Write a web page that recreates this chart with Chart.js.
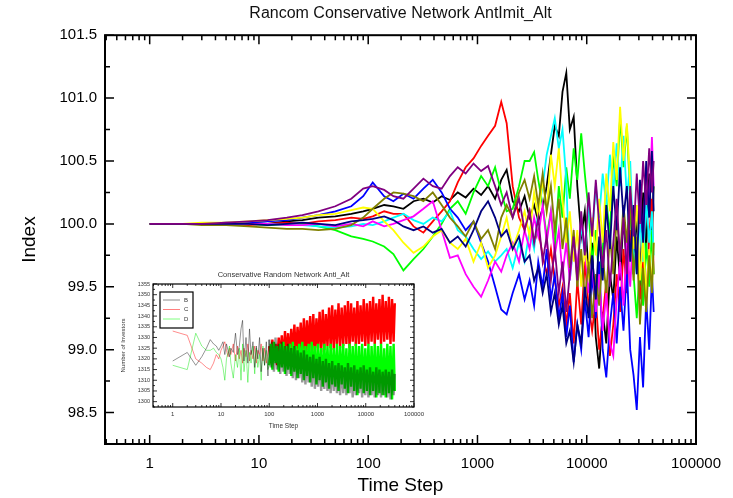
<!DOCTYPE html>
<html>
<head>
<meta charset="utf-8">
<script src="https://cdn.jsdelivr.net/npm/chart.js@4.4.1/dist/chart.umd.min.js"></script>
<style>
  html, body { margin: 0; padding: 0; background: #fff; }
  #wrap { position: relative; width: 733px; height: 498px; }
  #mainChart { position: absolute; left: 0; top: 0; }
  #insetChart { position: absolute; left: 112px; top: 266px; }
</style>
</head>
<body>
<div id="wrap">
  <canvas id="mainChart" width="733" height="498"></canvas>
  <canvas id="insetChart" width="322" height="166"></canvas>
</div>
<script>
// ---- index runs (main plot) ----
const timeSteps = [1, 2, 3, 5, 8, 12, 18, 25, 35, 50, 70, 90, 110, 140, 170, 210, 260, 320, 390, 470,
  560, 660, 780, 920, 1080, 1250, 1450, 1650, 1850, 2100, 2400, 2700, 3000, 3300, 3600, 3950, 4300, 4700, 5100, 5550,
  6000, 6500, 7000, 7600, 8200, 8900, 9600, 10400, 11200, 12100, 13000, 14000, 15100, 16300, 17500, 18800, 20200, 21700, 23300, 25000,
  26800, 28700, 30700, 32800, 35000, 37300, 39500, 41000];

const runBlack = [100.00, 100.00, 100.00, 100.00, 100.01, 100.00, 100.02, 100.03, 100.05, 100.06,
  100.08, 100.10, 100.12, 100.15, 100.14, 100.12, 100.18, 100.20, 100.17, 100.22,
  100.19, 100.25, 100.21, 100.28, 100.23, 100.30, 100.20, 100.35, 100.43, 100.18,
  100.10, 100.22, 100.05, 100.15, 100.02, 100.12, 100.30, 100.55, 100.78, 100.70,
  101.05, 101.20, 100.75, 100.85, 100.30, 99.90, 100.10, 99.60, 99.85, 99.10,
  98.85, 99.30, 99.05, 99.60, 99.40, 99.90, 99.55, 100.05, 99.70, 100.20,
  99.60, 100.10, 99.45, 100.25, 99.80, 100.40, 99.90, 100.30];
const runRed = [100.00, 100.00, 100.00, 100.00, 99.99, 100.00, 100.01, 100.00, 100.02, 100.03,
  100.05, 100.04, 100.06, 100.10, 100.08, 100.08, 99.98, 99.93, 100.02, 100.10,
  100.18, 100.33, 100.45, 100.52, 100.62, 100.70, 100.78, 100.97, 100.80, 100.30,
  100.05, 99.95, 100.10, 99.85, 99.95, 99.75, 99.60, 99.80, 99.55, 99.35,
  99.50, 99.20, 99.45, 99.05, 99.55, 99.20, 99.70, 99.35, 99.15, 99.40,
  99.00, 99.25, 99.55, 98.95, 99.20, 99.60, 99.30, 99.80, 99.45, 99.95,
  99.60, 99.85, 99.40, 99.70, 99.35, 99.90, 100.20, 99.60];
const runGreen = [100.00, 100.00, 100.00, 100.00, 100.00, 99.99, 99.99, 100.00, 99.98, 99.95,
  99.90, 99.88, 99.86, 99.82, 99.76, 99.63, 99.72, 99.80, 99.90, 100.00,
  100.12, 100.18, 100.08, 100.25, 100.38, 100.30, 100.45, 100.25, 100.10, 100.12,
  100.30, 100.50, 100.50, 100.57, 100.35, 100.15, 99.90, 100.10, 99.80, 100.30,
  100.05, 100.45, 100.20, 100.60, 100.35, 100.72, 100.40, 100.10, 99.70, 99.95,
  99.55, 99.80, 100.20, 99.90, 100.55, 100.30, 100.85, 100.45, 100.78, 100.20,
  99.60, 99.25, 99.70, 99.35, 99.85, 99.50, 99.95, 99.60];
const runBlue = [100.00, 100.00, 100.00, 100.01, 100.01, 100.02, 100.03, 100.05, 100.07, 100.10,
  100.14, 100.22, 100.33, 100.22, 100.18, 100.24, 100.20, 100.28, 100.35, 100.25,
  100.12, 100.05, 99.95, 100.02, 99.85, 99.70, 99.50, 99.32, 99.28, 99.45,
  99.60, 99.40, 99.55, 99.35, 99.70, 99.50, 99.80, 99.40, 99.60, 99.25,
  99.45, 99.10, 99.35, 98.90, 99.20, 99.00, 99.40, 99.10, 99.60, 99.25,
  99.70, 99.00, 98.78, 99.20, 99.45, 99.05, 99.50, 99.15, 99.65, 99.00,
  98.80, 98.52, 99.10, 98.70, 99.40, 99.00, 99.60, 99.30];
const runCyan = [100.00, 100.00, 100.00, 100.00, 100.00, 100.00, 99.99, 99.99, 99.98, 99.97,
  99.98, 100.00, 99.99, 100.02, 100.05, 100.08, 100.03, 100.00, 100.05, 100.02,
  100.10, 99.95, 99.90, 99.80, 99.72, 99.78, 99.70, 99.75, 99.80, 99.65,
  99.85, 99.70, 99.95, 99.80, 100.10, 100.30, 100.55, 100.70, 100.84, 100.60,
  100.75, 100.35, 99.55, 99.85, 99.60, 100.00, 99.75, 100.15, 99.90, 100.30,
  100.05, 100.40, 100.15, 100.55, 100.25, 100.64, 100.30, 100.70, 100.20, 100.50,
  99.80, 99.60, 100.05, 99.70, 100.20, 99.85, 100.10, 99.75];
const runMagenta = [100.00, 100.00, 100.00, 100.00, 100.00, 100.00, 99.99, 99.99, 100.00, 99.98,
  100.00, 99.98, 100.02, 99.98, 100.00, 100.03, 100.06, 100.12, 100.18, 99.95,
  99.73, 99.75, 99.60, 99.50, 99.42, 99.55, 99.70, 99.62, 99.75, 99.85,
  99.70, 99.95, 99.80, 100.05, 99.90, 100.15, 99.85, 100.10, 99.75, 99.95,
  99.60, 99.85, 99.55, 99.90, 99.65, 100.05, 99.80, 99.45, 99.70, 99.30,
  99.60, 99.15, 99.45, 99.05, 98.95, 99.40, 99.70, 99.35, 99.85, 99.50,
  100.00, 99.70, 100.20, 99.90, 100.45, 100.10, 100.69, 100.30];
const runYellow = [100.00, 100.00, 100.01, 100.01, 100.02, 100.03, 100.04, 100.05, 100.07, 100.08,
  100.11, 100.13, 100.12, 100.02, 99.95, 99.85, 99.77, 99.82, 99.90, 99.95,
  99.85, 99.80, 99.88, 99.70, 99.85, 99.65, 99.75, 99.90, 100.05, 99.80,
  99.95, 100.10, 99.90, 100.25, 100.05, 100.35, 100.10, 100.55, 100.30, 100.60,
  100.20, 99.85, 100.10, 99.70, 99.95, 99.50, 99.80, 99.60, 100.05, 99.75,
  100.20, 99.85, 100.40, 100.10, 100.65, 100.35, 100.93, 100.50, 100.80, 100.30,
  99.80, 100.15, 99.55, 99.90, 99.40, 99.80, 99.50, 99.85];
const runOlive = [100.00, 100.00, 99.99, 99.99, 99.98, 99.97, 99.96, 99.96, 99.95, 99.96,
  99.99, 100.05, 100.12, 100.20, 100.25, 100.24, 100.22, 100.18, 100.25, 100.15,
  100.05, 99.98, 99.90, 100.02, 99.88, 99.95, 99.80, 100.05, 100.15, 100.05,
  100.25, 100.35, 100.20, 100.38, 100.15, 100.40, 100.10, 100.30, 99.95, 100.20,
  99.80, 100.05, 99.65, 99.95, 99.50, 99.80, 99.40, 99.70, 99.25, 99.60,
  99.35, 99.75, 99.45, 99.90, 99.60, 100.05, 99.75, 100.15, 99.85, 100.25,
  99.55, 99.90, 99.20, 99.65, 99.30, 99.75, 99.45, 99.85];
const runNavy = [100.00, 100.00, 100.00, 100.00, 100.00, 99.99, 100.00, 100.01, 100.00, 99.99,
  100.02, 100.03, 100.04, 100.06, 100.03, 99.98, 99.95, 99.98, 99.93, 99.96,
  99.85, 99.90, 99.82, 99.95, 100.10, 100.18, 100.05, 99.90, 99.95, 99.80,
  99.90, 99.70, 99.75, 99.55, 99.65, 99.45, 99.60, 99.30, 99.45, 99.20,
  99.35, 99.05, 99.15, 98.90, 99.20, 99.05, 99.50, 99.25, 99.75, 99.40,
  99.90, 99.55, 100.15, 99.80, 100.30, 99.95, 100.45, 100.05, 100.30, 99.70,
  100.15, 99.60, 100.35, 99.85, 100.50, 100.05, 100.58, 100.10];
const runPurple = [100.00, 100.00, 100.00, 100.01, 100.02, 100.03, 100.05, 100.07, 100.10, 100.14,
  100.20, 100.28, 100.30, 100.27, 100.22, 100.20, 100.28, 100.36, 100.30, 100.28,
  100.38, 100.45, 100.40, 100.48, 100.42, 100.46, 100.30, 100.15, 100.25, 100.05,
  100.20, 99.95, 100.10, 99.85, 100.05, 99.70, 99.90, 99.55, 99.80, 99.45,
  99.70, 99.30, 99.60, 99.90, 99.55, 100.10, 99.75, 100.25, 99.90, 100.35,
  100.00, 99.65, 99.95, 99.50, 99.85, 100.20, 99.70, 100.05, 99.60, 100.30,
  99.90, 100.40, 100.00, 100.50, 100.15, 100.60, 100.25, 100.50];

const indexTicks = [98.5, 99.0, 99.5, 100.0, 100.5, 101.0, 101.5];
const decadeTicks = [1, 10, 100, 1000, 10000, 100000];

// ---- investor counts (inset) ----
const insetSteps = [1, 2, 3, 4, 5, 6, 7, 8, 9, 10, 11, 12, 13, 14, 15, 16, 18, 20, 22, 24,
  26, 28, 30, 33, 36, 39, 42, 46, 50, 54, 58, 63, 68, 74, 80, 87, 94,
  100, 108, 116, 125, 135, 145, 157, 169, 182, 196, 212, 228, 246, 265, 286, 308, 332, 358, 386, 416,
  449, 484, 522, 562, 606, 654, 705, 760, 819, 883, 952, 1026, 1106, 1193, 1286, 1386, 1494, 1611, 1737, 1872,
  2018, 2176, 2346, 2529, 2726, 2939, 3168, 3416, 3682, 3970, 4280, 4614, 4974, 5362, 5780, 6231, 6718, 7242, 7807, 8416,
  9073, 9781, 10544, 11367, 12254, 13210, 14241, 15352, 16550, 17842, 19234, 20735, 22353, 24097, 25977, 28004, 30189, 32545, 35084, 37822,
  40000];
const investorsB = [1319, 1323, 1317, 1321, 1325, 1329, 1327, 1326, 1324, 1326, 1328, 1322, 1327, 1324, 1321, 1325, 1323, 1332, 1322, 1326,
  1334, 1338, 1319, 1330, 1318, 1334, 1322, 1328, 1316, 1326, 1320, 1330, 1314, 1325, 1317, 1328, 1312,
  1329, 1316, 1328, 1314, 1330, 1315, 1327, 1313, 1328, 1314, 1326, 1312, 1327, 1313, 1325, 1311, 1326, 1310, 1324, 1311,
  1323, 1309, 1324, 1308, 1322, 1309, 1321, 1307, 1322, 1306, 1320, 1307, 1321, 1305, 1319, 1306, 1320, 1305, 1318, 1304,
  1319, 1305, 1317, 1304, 1318, 1303, 1317, 1304, 1316, 1303, 1318, 1304, 1316, 1302, 1317, 1303, 1315, 1304, 1316, 1302,
  1317, 1303, 1315, 1302, 1316, 1303, 1314, 1302, 1316, 1303, 1315, 1302, 1314, 1303, 1315, 1302, 1314, 1301, 1315, 1303,
  1313];
const investorsC = [1333, 1331, 1320, 1318, 1316, 1315, 1318, 1322, 1320, 1324, 1326, 1328, 1324, 1321, 1325, 1322, 1327, 1319, 1326, 1320,
  1324, 1318, 1325, 1321, 1327, 1319, 1324, 1320, 1326, 1318, 1324, 1322, 1327, 1319, 1325, 1318, 1323,
  1326, 1318, 1329, 1320, 1327, 1317, 1330, 1321, 1331, 1319, 1333, 1321, 1332, 1320, 1334, 1322, 1336, 1321, 1335, 1323,
  1337, 1322, 1339, 1321, 1338, 1324, 1340, 1323, 1341, 1322, 1339, 1325, 1342, 1323, 1343, 1324, 1341, 1326, 1344, 1325,
  1345, 1324, 1343, 1327, 1346, 1325, 1344, 1326, 1345, 1327, 1347, 1325, 1346, 1328, 1344, 1326, 1347, 1327, 1345, 1328,
  1348, 1326, 1346, 1327, 1347, 1328, 1349, 1327, 1346, 1329, 1348, 1327, 1350, 1328, 1347, 1329, 1349, 1327, 1348, 1328,
  1346];
const investorsD = [1317, 1315, 1332, 1326, 1324, 1324, 1325, 1323, 1322, 1320, 1316, 1310, 1320, 1323, 1326, 1318, 1311, 1322, 1316, 1325,
  1310, 1327, 1314, 1324, 1309, 1323, 1318, 1326, 1313, 1325, 1316, 1322, 1310, 1326, 1317, 1324, 1315,
  1317, 1327, 1315, 1328, 1318, 1326, 1314, 1327, 1316, 1328, 1313, 1326, 1315, 1327, 1312, 1328, 1314, 1326, 1311, 1327,
  1313, 1328, 1310, 1326, 1312, 1327, 1309, 1328, 1311, 1326, 1308, 1327, 1310, 1325, 1307, 1327, 1309, 1326, 1306, 1327,
  1308, 1325, 1307, 1327, 1305, 1326, 1308, 1327, 1306, 1325, 1304, 1327, 1307, 1326, 1305, 1327, 1303, 1326, 1306, 1327,
  1304, 1325, 1305, 1327, 1303, 1326, 1305, 1327, 1302, 1326, 1304, 1327, 1303, 1325, 1302, 1327, 1304, 1326, 1301, 1327,
  1305];
const investorTicks = [1300, 1305, 1310, 1315, 1320, 1325, 1330, 1335, 1340, 1345, 1350, 1355];

Chart.defaults.font.family = '"Liberation Sans", Arial, sans-serif';
Chart.defaults.color = '#000';

function points(xs, ys) {
  return ys.map((v, i) => ({ x: xs[i], y: v }));
}

// 1..9 x 10^n positions inside the log range, decade starts flagged as major
function logTickMarks(min, max) {
  const out = [];
  for (let e = Math.floor(Math.log10(min)); e <= Math.ceil(Math.log10(max)); e++) {
    for (let k = 1; k < 10; k++) {
      const v = k * Math.pow(10, e);
      if (v >= min * 0.999 && v <= max * 1.001) out.push({ v, major: k === 1 });
    }
  }
  return out;
}

// box frame with inward ticks on all four sides
const framePlugin = {
  id: 'frame',
  afterDatasetsDraw(chart, args, o) {
    const { ctx, chartArea: a, scales: { x, y } } = chart;
    ctx.save();
    ctx.strokeStyle = o.color;
    ctx.lineWidth = o.tickWidth;
    ctx.beginPath();
    for (const t of logTickMarks(x.min, x.max)) {
      const px = x.getPixelForValue(t.v);
      const len = t.major ? o.major : o.minor;
      ctx.moveTo(px, a.bottom); ctx.lineTo(px, a.bottom - len);
      ctx.moveTo(px, a.top); ctx.lineTo(px, a.top + len);
    }
    const n0 = Math.ceil(y.min / o.yMinor - 1e-6);
    for (let n = n0; n * o.yMinor <= y.max + 1e-6; n++) {
      const v = n * o.yMinor;
      const py = y.getPixelForValue(v);
      const r = v / o.yMajor;
      const len = Math.abs(r - Math.round(r)) < 1e-6 ? o.major : o.minor;
      ctx.moveTo(a.left, py); ctx.lineTo(a.left + len, py);
      ctx.moveTo(a.right, py); ctx.lineTo(a.right - len, py);
    }
    ctx.stroke();
    ctx.lineWidth = o.frameWidth;
    ctx.strokeRect(a.left, a.top, a.right - a.left, a.bottom - a.top);
    ctx.restore();
  }
};

// ---- main chart ----
const mainRuns = [
  { data: runBlack, color: '#000000' },
  { data: runRed, color: '#ff0000' },
  { data: runGreen, color: '#00ff00' },
  { data: runBlue, color: '#0000ff' },
  { data: runCyan, color: '#00ffff' },
  { data: runMagenta, color: '#ff00ff' },
  { data: runYellow, color: '#ffff00' },
  { data: runOlive, color: '#808000' },
  { data: runNavy, color: '#000080' },
  { data: runPurple, color: '#800080' }
];

const noGrid = { display: false, drawTicks: false };

new Chart(document.getElementById('mainChart'), {
  type: 'line',
  data: {
    datasets: mainRuns.map((r, i) => ({
      data: points(timeSteps, r.data),
      borderColor: r.color,
      borderWidth: 1.8,
      pointRadius: 0,
      tension: 0,
      order: mainRuns.length - i
    }))
  },
  options: {
    responsive: false,
    devicePixelRatio: 1,
    animation: false,
    events: [],
    layout: { padding: { left: 0, right: 37, top: 0, bottom: 0 } },
    scales: {
      x: {
        type: 'logarithmic',
        min: 0.39,
        max: 100000,
        grid: noGrid,
        border: { display: false },
        afterBuildTicks: s => { s.ticks = decadeTicks.map(v => ({ value: v })); },
        afterFit: s => { s.height = 54; },
        ticks: { font: { size: 15 }, padding: 11, maxRotation: 0, autoSkip: false, callback: v => String(v) },
        title: { display: true, text: 'Time Step', font: { size: 19 }, padding: { top: 0, bottom: 1 } }
      },
      y: {
        min: 98.25,
        max: 101.5,
        grid: noGrid,
        border: { display: false },
        afterBuildTicks: s => { s.ticks = indexTicks.map(v => ({ value: v })); },
        afterFit: s => { s.width = 105; },
        ticks: { font: { size: 15 }, padding: 8, callback: v => Number(v).toFixed(1) },
        title: { display: true, text: 'Index', font: { size: 19 }, padding: { top: 18, bottom: 0 } }
      }
    },
    plugins: {
      legend: { display: false },
      tooltip: { enabled: false },
      title: {
        display: true,
        text: 'Rancom Conservative Network AntImit_Alt',
        fullSize: false,
        font: { size: 16, weight: 'normal' },
        color: '#111',
        padding: { top: 4, bottom: 12 }
      },
      frame: { color: '#000', tickWidth: 1.5, frameWidth: 2, major: 9, minor: 5, yMajor: 0.5, yMinor: 0.25 }
    }
  },
  plugins: [framePlugin]
});

// ---- inset chart ----
const insetNames = ['B', 'C', 'D'];

const insetLegend = {
  id: 'insetLegend',
  afterDraw(chart) {
    const { ctx, chartArea: a } = chart;
    const x0 = a.left + 7, y0 = a.top + 8;
    const swatch = ['#8c8c8c', '#ff8080', '#80ff80'];
    ctx.save();
    ctx.fillStyle = '#fff';
    ctx.fillRect(x0, y0, 33, 36);
    ctx.strokeStyle = '#000';
    ctx.lineWidth = 1.2;
    ctx.strokeRect(x0, y0, 33, 36);
    ctx.font = '6px "Liberation Sans", Arial, sans-serif';
    ctx.textBaseline = 'middle';
    insetNames.forEach((name, i) => {
      const yy = y0 + 8 + i * 9.5;
      ctx.strokeStyle = swatch[i];
      ctx.lineWidth = 1;
      ctx.beginPath();
      ctx.moveTo(x0 + 3, yy);
      ctx.lineTo(x0 + 20, yy);
      ctx.stroke();
      ctx.fillStyle = '#333';
      ctx.fillText(name, x0 + 24, yy);
    });
    ctx.restore();
  }
};

const insetRuns = [
  { label: 'B', data: investorsB, light: 'rgba(0,0,0,0.42)', solid: 'rgba(0,0,0,0.4)', order: 1 },
  { label: 'C', data: investorsC, light: 'rgba(255,0,0,0.45)', solid: '#ff0000', order: 3 },
  { label: 'D', data: investorsD, light: 'rgba(0,230,0,0.45)', solid: '#00ff00', order: 2 }
];

new Chart(document.getElementById('insetChart'), {
  type: 'line',
  data: {
    datasets: insetRuns.map(r => ({
      label: r.label,
      data: points(insetSteps, r.data),
      borderColor: r.solid,
      borderWidth: 1,
      pointRadius: 0,
      tension: 0,
      order: r.order,
      segment: {
        borderColor: c => (c.p0.parsed.x < 100 ? r.light : r.solid),
        borderWidth: c => (c.p0.parsed.x < 100 ? 1 : 2.4)
      }
    }))
  },
  options: {
    responsive: false,
    devicePixelRatio: 1,
    animation: false,
    events: [],
    layout: { padding: { left: 0, right: 20, top: 0, bottom: 0 } },
    scales: {
      x: {
        type: 'logarithmic',
        min: 0.39,
        max: 100000,
        grid: noGrid,
        border: { display: false },
        afterBuildTicks: s => { s.ticks = decadeTicks.map(v => ({ value: v })); },
        afterFit: s => { s.height = 25; },
        ticks: { font: { size: 6 }, color: '#333', padding: 4, maxRotation: 0, autoSkip: false, callback: v => String(v) },
        title: { display: true, text: 'Time Step', color: '#333', font: { size: 6.5 }, padding: { top: 0, bottom: 2 } }
      },
      y: {
        min: 1297.5,
        max: 1355,
        grid: noGrid,
        border: { display: false },
        afterBuildTicks: s => { s.ticks = investorTicks.map(v => ({ value: v })); },
        afterFit: s => { s.width = 41; },
        ticks: { font: { size: 5.5 }, color: '#333', padding: 3, callback: v => String(v) },
        title: { display: true, text: 'Number of Investors', color: '#333', font: { size: 6 }, padding: { top: 8, bottom: 0 } }
      }
    },
    plugins: {
      legend: { display: false },
      tooltip: { enabled: false },
      title: {
        display: true,
        text: 'Conservative Random Network Anti_Alt',
        fullSize: false,
        font: { size: 7.5, weight: 'normal' },
        color: '#333',
        padding: { top: 4, bottom: 5 }
      },
      frame: { color: '#000', tickWidth: 0.8, frameWidth: 1.2, major: 4, minor: 2, yMajor: 5, yMinor: 2.5 }
    }
  },
  plugins: [framePlugin, insetLegend]
});
</script>
</body>
</html>
